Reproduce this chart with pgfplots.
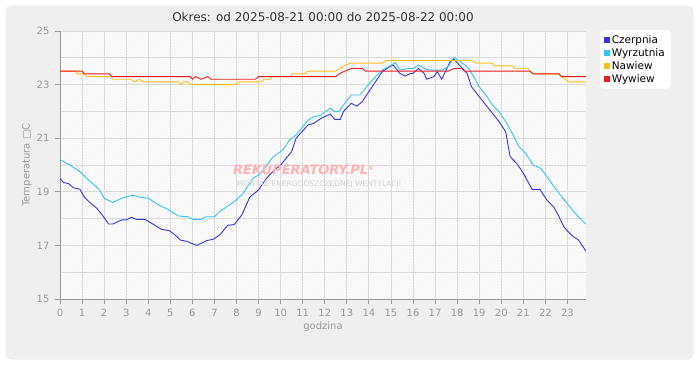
\documentclass[border=0pt]{standalone}
\usepackage{pgfplots}
\pgfplotsset{compat=1.18}
\usepackage{fontspec}
\setmainfont{DejaVu Sans}
\usetikzlibrary{patterns}
\definecolor{panel}{HTML}{EFEFEF}
\definecolor{gridc}{HTML}{DADADA}
\definecolor{tickc}{HTML}{999999}
\definecolor{cCz}{HTML}{3535E0}
\definecolor{cWy}{HTML}{30C4F5}
\definecolor{cNa}{HTML}{FFBF1A}
\definecolor{cWw}{HTML}{F01818}
\definecolor{hatch}{HTML}{F0F0F0}
\begin{document}
\begin{tikzpicture}
\path[fill=white] (0pt,0pt) rectangle (700pt,380pt);
\path[fill=panel, draw=white, line width=1pt, rounded corners=6pt] (5pt,20pt) rectangle (694pt,375pt);
\begin{axis}[
  at={(60pt,81pt)}, anchor=south west,
  width=526pt, height=268pt, scale only axis,
  xmin=0, xmax=23.84, ymin=15, ymax=25,
  axis lines*=left,
  axis line style={tickc, line width=0.8pt, -},
  axis background/.style={fill=white, postaction={pattern=north east lines, pattern color=hatch}},
  xtick={0,1,...,23},
  ytick={15,17,19,21,23,25},
  minor ytick={16,18,20,22,24},
  grid=both,
  major grid style={gridc, line width=0.8pt},
  minor grid style={gridc, line width=0.8pt},
  tick style={tickc, line width=0.8pt},
  major tick length=5pt, minor tick length=0pt,
  tick align=outside,
  tick label style={font=\fontsize{10}{12}\selectfont, text=tickc},
  /pgf/number format/assume math mode=true,
  xticklabel style={yshift=-2pt},
  yticklabel style={xshift=-2pt},
  legend style={at={(1.0266,1.004)}, anchor=north west, fill=white, draw=none, rounded corners=4pt,
    font=\fontsize{10.5}{12}\selectfont, row sep=-0.5pt, inner xsep=4pt, inner ysep=3pt},
  legend cell align=left,
  legend image code/.code={\fill[#1, sharp corners, draw=none] (0pt,-2.8pt) rectangle (5.6pt,2.8pt);},
]
\addplot[color=cCz, line width=0.9pt] coordinates {
(0,19.5)(0.15,19.35)(0.4,19.3)(0.6,19.15)(0.9,19.1)(1.1,18.8)(1.35,18.6)(1.65,18.4)(1.95,18.1)(2.2,17.8)(2.4,17.8)(2.8,17.95)(3.0,17.95)(3.25,18.05)(3.45,17.97)(3.85,17.97)(4.2,17.8)(4.6,17.6)(4.95,17.55)(5.2,17.4)(5.45,17.2)(5.75,17.15)(5.95,17.08)(6.2,17.0)(6.45,17.1)(6.65,17.18)(6.95,17.23)(7.25,17.4)(7.6,17.75)(7.9,17.78)(8.25,18.15)(8.6,18.8)(9.0,19.07)(9.35,19.5)(9.7,19.8)(10.0,20.0)(10.3,20.3)(10.5,20.5)(10.7,21.0)(11.25,21.5)(11.5,21.55)(11.85,21.75)(12.25,21.9)(12.45,21.7)(12.7,21.7)(12.85,22.0)(13.2,22.3)(13.45,22.2)(13.7,22.36)(14.0,22.74)(14.35,23.17)(14.6,23.48)(14.95,23.67)(15.1,23.73)(15.4,23.42)(15.65,23.32)(15.9,23.42)(16.0,23.42)(16.25,23.6)(16.5,23.42)(16.62,23.2)(16.95,23.3)(17.1,23.48)(17.3,23.2)(17.5,23.54)(17.7,23.89)(17.85,23.95)(18.1,23.73)(18.45,23.42)(18.65,22.92)(19.0,22.55)(19.3,22.24)(19.6,21.93)(19.9,21.62)(20.2,21.24)(20.4,20.31)(20.7,20.06)(21.0,19.69)(21.4,19.09)(21.75,19.09)(22.07,18.69)(22.37,18.44)(22.6,18.1)(22.83,17.7)(23.1,17.45)(23.28,17.32)(23.5,17.2)(23.83,16.8)
};
\addlegendentry{Czerpnia}
\addplot[color=cWy, line width=0.9pt] coordinates {
(0,20.2)(0.45,20.0)(0.9,19.75)(1.35,19.4)(1.8,19.07)(2.0,18.76)(2.4,18.6)(2.8,18.76)(3.3,18.88)(3.6,18.8)(4.0,18.76)(4.5,18.5)(5.0,18.3)(5.35,18.1)(5.8,18.07)(6.0,17.97)(6.4,17.97)(6.6,18.07)(7.0,18.07)(7.25,18.26)(7.55,18.44)(7.9,18.63)(8.3,18.94)(8.75,19.5)(9.1,19.69)(9.65,20.3)(10.1,20.56)(10.4,20.93)(10.7,21.12)(11.25,21.68)(11.5,21.8)(11.8,21.85)(12.25,22.12)(12.45,21.99)(12.65,21.99)(12.85,22.24)(13.2,22.61)(13.6,22.61)(13.9,22.92)(14.3,23.3)(14.6,23.54)(14.9,23.67)(15.2,23.82)(15.4,23.54)(15.8,23.6)(16.0,23.6)(16.25,23.73)(16.6,23.56)(17.0,23.54)(17.3,23.54)(17.6,23.67)(17.85,24.02)(18.1,23.89)(18.45,23.67)(18.75,23.3)(19.0,22.92)(19.3,22.61)(19.6,22.24)(19.9,21.99)(20.2,21.62)(20.5,21.18)(20.8,20.68)(21.1,20.44)(21.45,20.0)(21.8,19.87)(22.07,19.56)(22.5,19.07)(22.98,18.57)(23.43,18.13)(23.83,17.8)
};
\addlegendentry{Wyrzutnia}
\addplot[color=cNa, line width=0.9pt] coordinates {
(0,23.5)(0.7,23.5)(0.8,23.4)(1.1,23.4)(1.2,23.3)(2.3,23.3)(2.4,23.2)(3.2,23.2)(3.4,23.1)(3.6,23.2)(3.8,23.1)(5.4,23.1)(5.5,23.0)(5.6,23.1)(5.8,23.1)(5.9,23.0)(7.9,23.0)(8.1,23.1)(9.1,23.1)(9.25,23.2)(9.5,23.2)(9.6,23.3)(10.4,23.3)(10.55,23.4)(11.1,23.4)(11.2,23.5)(12.5,23.5)(12.7,23.6)(12.9,23.7)(13.15,23.8)(14.6,23.8)(14.8,23.9)(18.7,23.9)(18.85,23.8)(19.6,23.8)(19.7,23.7)(20.5,23.7)(20.65,23.6)(21.2,23.6)(21.3,23.5)(21.45,23.4)(22.6,23.4)(22.7,23.3)(22.9,23.2)(23.05,23.1)(23.83,23.1)
};
\addlegendentry{Nawiew}
\addplot[color=cWw, line width=0.9pt] coordinates {
(0,23.5)(1.0,23.5)(1.1,23.4)(2.25,23.4)(2.35,23.3)(5.9,23.3)(6.0,23.2)(6.15,23.3)(6.4,23.2)(6.7,23.3)(6.85,23.2)(8.85,23.2)(9.0,23.3)(12.5,23.3)(12.65,23.4)(12.9,23.5)(13.2,23.6)(13.7,23.6)(13.85,23.5)(17.6,23.5)(17.85,23.6)(18.2,23.6)(18.35,23.5)(21.3,23.5)(21.45,23.4)(22.6,23.4)(22.75,23.3)(23.83,23.3)
};
\addlegendentry{Wywiew}
\end{axis}
\node[text=red!30, font=\fontsize{13}{15}\selectfont\bfseries\itshape] at (304pt,210pt) {REKUPERATORY.PL\textsuperscript{\fontsize{6}{7}\selectfont ®}};
\node[text=black!18, font=\fontsize{7.5}{9}\selectfont] at (319pt,196pt) {MONTAŻ ENERGOOSZCZĘDNEJ WENTYLACJI};
\node[font=\fontsize{12}{14}\selectfont, text=black!80] at (323pt,363pt) {Okres: od 2025-08-21 00:00 do 2025-08-22 00:00};
\node[font=\fontsize{10}{12}\selectfont, text=tickc] at (323pt,53pt) {godzina};
\node[font=\fontsize{10}{12}\selectfont, text=tickc, rotate=90] at (27pt,215pt) {Temperatura □C};
\end{tikzpicture}
\end{document}
